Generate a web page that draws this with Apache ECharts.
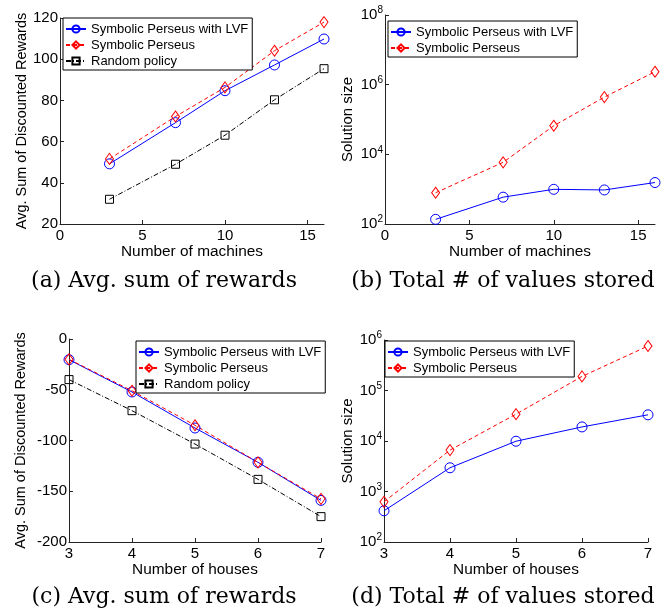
<!DOCTYPE html>
<html><head><meta charset="utf-8">
<script src="https://cdn.jsdelivr.net/npm/echarts@6/dist/echarts.min.js"></script>
<style>html,body{margin:0;padding:0;background:#fff}#c{width:672px;height:614px}</style>
</head><body><div id="c"></div>
<script>
// ---- data ----
const machines = [3, 7, 10, 13, 16];
const aLVF  = [49.2, 69.2, 84.7, 97.2, 109.8];
const aSP   = [51.6, 72.2, 86.3, 104.1, 118.0];
const aRand = [32.0, 49.0, 63.1, 80.3, 95.4];
const bLVF  = [136, 590, 990, 950, 1550];
const bSP   = [790, 5900, 66000, 440000, 2350000];
const houses = [3, 4, 5, 6, 7];
const cLVF  = [-20.4, -52.2, -87.7, -121.5, -159.0];
const cSP   = [-20.0, -51.0, -85.0, -121.5, -157.5];
const cRand = [-40.0, -70.6, -103.5, -138.3, -175.0];
const dLVF  = [415, 2950, 9900, 19000, 33000];
const dSP   = [625, 6600, 34000, 190000, 760000];
const machineTicks = [0, 5, 10, 15];
const bTicks = [1e2, 1e4, 1e6, 1e8];
const dTicks = [1e2, 1e3, 1e4, 1e5, 1e6];
const captions = ['(a) Avg. sum of rewards', '(b) Total # of values stored',
                  '(c) Avg. sum of rewards', '(d) Total # of values stored'];
const nameLVF = 'Symbolic Perseus with LVF', nameSP = 'Symbolic Perseus', nameRand = 'Random policy';
const xNameA = 'Number of machines', xNameC = 'Number of houses';
const yNameR = 'Avg. Sum of Discounted Rewards', yNameS = 'Solution size';

// ---- styling ----
const FONT = 'Liberation Sans';
const AX = '#222';
const pairs = (xs, ys) => xs.map((x, i) => [x, ys[i]]);
const styles = {
  lvf:  {symbol: 'circle', symbolSize: 10, color: '#0000ff', type: 'solid'},
  sp:   {symbol: 'diamond', symbolSize: [8, 11], color: '#ff0000', type: [4, 3]},
  rand: {symbol: 'rect', symbolSize: 8, color: '#000000', type: [5, 2, 1, 2]}
};
function series(name, st, idx, data) {
  return {
    type: 'line', name, xAxisIndex: idx, yAxisIndex: idx, data,
    symbol: st.symbol, symbolSize: st.symbolSize, showSymbol: true,
    lineStyle: {color: st.color, width: 1, type: st.type},
    itemStyle: {color: 'rgba(255,255,255,0)', borderColor: st.color, borderWidth: 1},
    emphasis: {disabled: true}, animation: false, z: 3
  };
}
function xAxis(idx, min, max, interval, name, custom) {
  const o = {
    type: 'value', gridIndex: idx, min, max, interval,
    name, nameLocation: 'middle', nameGap: 16.5,
    nameTextStyle: {fontFamily: FONT, fontSize: 15.4, color: '#000'},
    axisLine: {show: true, onZero: false, lineStyle: {color: AX, width: 1}},
    axisTick: {show: true, inside: true, length: 4, lineStyle: {color: AX}},
    axisLabel: {fontFamily: FONT, fontSize: 15, color: '#000', margin: 4},
    splitLine: {show: false}
  };
  if (custom) {
    o.axisLabel.customValues = custom;
    o.axisTick.customValues = custom;
  }
  return o;
}
function yAxisLin(idx, min, max, interval, name, gap) {
  return {
    type: 'value', gridIndex: idx, min, max, interval,
    name, nameLocation: 'middle', nameGap: gap, nameRotate: 90,
    nameTextStyle: {fontFamily: FONT, fontSize: 14.5, color: '#000'},
    axisLine: {show: true, onZero: false, lineStyle: {color: AX, width: 1}},
    axisTick: {show: true, inside: true, length: 4, lineStyle: {color: AX}},
    axisLabel: {fontFamily: FONT, fontSize: 15, color: '#000', margin: 2},
    splitLine: {show: false}
  };
}
function yAxisLog(idx, min, max, ticks, name, gap) {
  return {
    type: 'log', logBase: 10, gridIndex: idx, min, max,
    name, nameLocation: 'middle', nameGap: gap, nameRotate: 90,
    nameTextStyle: {fontFamily: FONT, fontSize: 15, color: '#000'},
    axisLine: {show: true, onZero: false, lineStyle: {color: AX, width: 1}},
    axisTick: {show: true, inside: true, length: 4, lineStyle: {color: AX}, customValues: ticks},
    axisLabel: {
      fontFamily: FONT, color: '#000', margin: 2, customValues: ticks,
      formatter: v => '{b|10}{s|' + Math.round(Math.log10(v)) + '}',
      rich: {
        b: {fontFamily: FONT, fontSize: 15, color: '#000', lineHeight: 17},
        s: {fontFamily: FONT, fontSize: 10, color: '#000', padding: [0, 0, 9, 0], lineHeight: 17}
      }
    },
    splitLine: {show: false}
  };
}
function legend(names, left, top) {
  return {
    show: true, data: names, orient: 'vertical', left, top,
    itemWidth: 20, itemHeight: 9, itemGap: 0,
    padding: [3, 4, 1, 2],
    backgroundColor: '#fff', borderColor: '#000', borderWidth: 1, borderRadius: 0,
    textStyle: {fontFamily: FONT, fontSize: 13, color: '#000', lineHeight: 16},
    selectedMode: false
  };
}

const option = {
  backgroundColor: '#fff',
  animation: false,
  grid: [
    {left: 60, top: 18, width: 264, height: 206},
    {left: 385, top: 15, width: 270, height: 209},
    {left: 69, top: 339, width: 252, height: 203},
    {left: 384, top: 340, width: 264, height: 202}
  ],
  xAxis: [
    xAxis(0, 0, 16, 5, xNameA, machineTicks),
    xAxis(1, 0, 16, 5, xNameA, machineTicks),
    xAxis(2, 3, 7, 1, xNameC),
    xAxis(3, 3, 7, 1, xNameC)
  ],
  yAxis: [
    yAxisLin(0, 20, 120, 20, yNameR, 31),
    yAxisLog(1, 100, 1e8, bTicks, yNameS, 30),
    yAxisLin(2, -200, 0, 50, yNameR, 41),
    yAxisLog(3, 100, 1e6, dTicks, yNameS, 29)
  ],
  legend: [
    legend([nameLVF, nameSP, nameRand], 63, 18),
    legend([nameLVF, nameSP], 388, 21),
    legend([nameLVF, nameSP, nameRand], 136, 341),
    legend([nameLVF, nameSP], 385, 341)
  ],
  series: [
    series(nameRand, styles.rand, 0, pairs(machines, aRand)),
    series(nameLVF, styles.lvf, 0, pairs(machines, aLVF)),
    series(nameSP, styles.sp, 0, pairs(machines, aSP)),
    series(nameLVF, styles.lvf, 1, pairs(machines, bLVF)),
    series(nameSP, styles.sp, 1, pairs(machines, bSP)),
    series(nameRand, styles.rand, 2, pairs(houses, cRand)),
    series(nameLVF, styles.lvf, 2, pairs(houses, cLVF)),
    series(nameSP, styles.sp, 2, pairs(houses, cSP)),
    series(nameLVF, styles.lvf, 3, pairs(houses, dLVF)),
    series(nameSP, styles.sp, 3, pairs(houses, dSP))
  ],
  graphic: [
    [164, 281], [503, 281], [164, 597], [503, 597]
  ].map((p, i) => ({
    type: 'text', x: p[0], y: p[1],
    style: {text: captions[i], fill: '#000', font: '22px "DejaVu Serif"',
            textAlign: 'center', textVerticalAlign: 'middle'}
  }))
};
const chart = echarts.init(document.getElementById('c'), null, {renderer: 'canvas'});
chart.setOption(option);
</script></body></html>
